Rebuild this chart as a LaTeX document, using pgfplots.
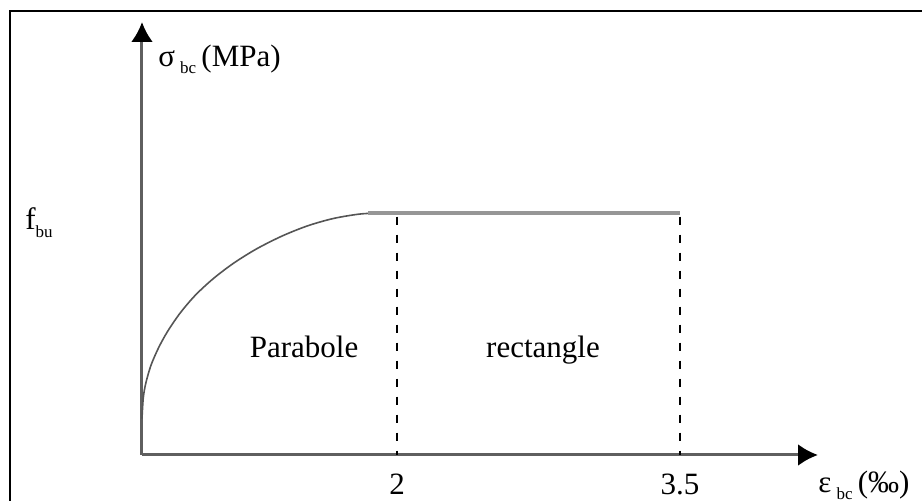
\documentclass[border=0pt]{standalone}
\usepackage{fontspec}
\setmainfont{Liberation Serif}
\usepackage{pgfplots}
\pgfplotsset{compat=1.18}
\usetikzlibrary{arrows.meta}
\definecolor{axgray}{RGB}{95,95,95}
\definecolor{curvegray}{RGB}{85,85,85}
\definecolor{flatgray}{RGB}{150,150,150}
\newcommand{\sub}[1]{\raisebox{-0.5ex}{\fontsize{8.5}{9}\selectfont #1}}
\begin{document}
\fontsize{15.5}{18}\selectfont
\begin{tikzpicture}
\useasboundingbox (0,0) rectangle (461pt,250.5pt);
\draw[line width=1pt,black] (5pt,-10pt) rectangle (475pt,245pt);
\begin{axis}[
  at={(71pt,23pt)}, anchor=south west,
  scale only axis, width=338pt, height=216.5pt,
  xmin=0, xmax=5.302, ymin=0, ymax=1.789,
  axis lines=left,
  axis line style={axgray, line width=1.5pt, -{Latex[length=10pt,width=11pt,black]}},
  xtick={2,4.22}, xticklabels={2,3.5},
  ytick=\empty,
  major tick length=0pt,
  xticklabel style={yshift=-4pt, font=\fontsize{15.5}{18}\selectfont},
  /pgf/number format/assume math mode=true,
  clip=false,
]
\addplot[curvegray, line width=0.8pt, smooth, tension=0.5] coordinates {
(0.000,0.150) (0.010,0.236) (0.030,0.297) (0.070,0.370) (0.130,0.443)
(0.200,0.510) (0.300,0.587) (0.420,0.661) (0.560,0.729) (0.720,0.793)
(0.900,0.852) (1.100,0.905) (1.300,0.947) (1.500,0.977) (1.700,0.995)
(1.850,1.000)};
\addplot[flatgray, line width=2pt] coordinates {(1.773,1.0) (4.22,1.0)};
\addplot[black, line width=1pt, dash pattern=on 4pt off 5pt] coordinates {(2,0.985) (2,0)};
\addplot[black, line width=1pt, dash pattern=on 4pt off 5pt] coordinates {(4.22,0.985) (4.22,0)};
\node[anchor=base] at (axis cs:1.271,0.401) {Parabole};
\node[anchor=base] at (axis cs:3.145,0.401) {rectangle};
\node[anchor=base west, inner sep=0pt] at (axis cs:0.125,1.607) {σ\,\sub{bc}\,(MPa)};
\node[anchor=base west, inner sep=0pt] at (axis cs:-0.918,0.93) {f\sub{bu}};
\node[anchor=base west, inner sep=0pt] at (axis cs:5.302,-0.153) {ε\,\sub{bc}\,(‰)};
\end{axis}
\end{tikzpicture}
\end{document}
